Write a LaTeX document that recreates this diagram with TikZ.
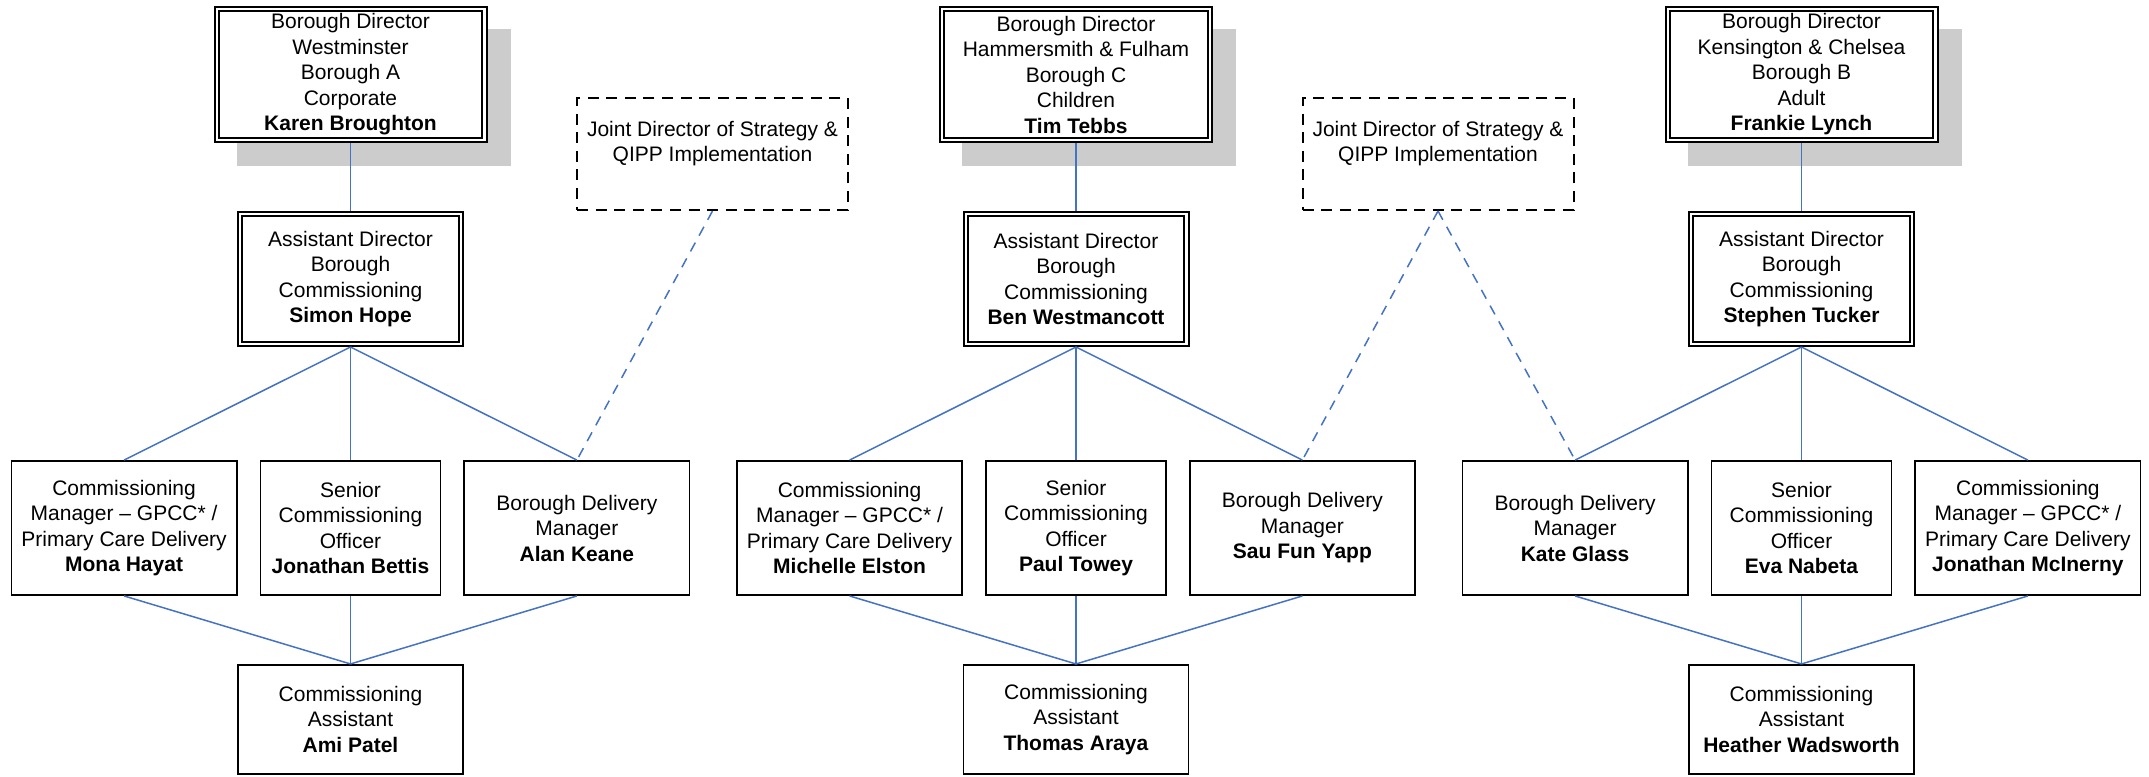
\documentclass[tikz,border=0pt]{standalone}
\usepackage{fontspec}
\setmainfont{Liberation Sans}
\usetikzlibrary{positioning,backgrounds}

\definecolor{linkblue}{RGB}{68,114,196}
\definecolor{shadowgray}{RGB}{204,204,204}

\tikzset{
  box/.style={draw, line width=0.85pt, fill=white, align=center, inner sep=0pt,
    font=\fontsize{10.5pt}{12.75pt}\selectfont},
  widebox/.style={box, minimum width=112.6pt, minimum height=67.1pt},
  seniorbox/.style={box, minimum width=90.1pt, minimum height=67.1pt},
  assistbox/.style={box, minimum width=112.6pt, minimum height=54.6pt},
  headbox/.style={box, line width=1pt, double, double distance=1.2pt, outer sep=1.6pt},
  directorbox/.style={headbox, minimum width=133.8pt, minimum height=65.3pt},
  adbox/.style={headbox, minimum width=110.3pt, minimum height=64.8pt},
  jointbox/.style={box, line width=1pt, dash pattern=on 5.5pt off 3.8pt,
    minimum width=135.5pt, minimum height=56pt},
  link/.style={draw=linkblue, line width=0.75pt},
  dashlink/.style={link, dash pattern=on 5pt off 4pt}
}

\begin{document}
\begin{tikzpicture}[x=0.5pt, y=-0.5pt, node distance=11pt]
  \useasboundingbox (0,0) rectangle (2149,777);

  % borough A
  \node[directorbox] (dirA) at (350.5,74.5)
    {Borough Director\\Westminster\\Borough A\\Corporate\\\textbf{Karen Broughton}};
  \node[adbox] (adA) at (350.5,279)
    {Assistant Director\\Borough\\Commissioning\\\textbf{Simon Hope}};
  \node[jointbox] (jointA) at (712.5,154)
    {Joint Director of Strategy \&\\QIPP Implementation\\\mbox{}};
  \node[seniorbox] (offA) at (350.5,528)
    {Senior\\Commissioning\\Officer\\\textbf{Jonathan Bettis}};
  \node[widebox, left=of offA] (mgrA)
    {Commissioning\\Manager \textendash{} GPCC* /\\Primary Care Delivery\\\textbf{Mona Hayat}};
  \node[widebox, right=of offA] (dlvA)
    {Borough Delivery\\Manager\\\textbf{Alan Keane}};
  \node[assistbox, below=34pt of offA] (asstA)
    {Commissioning\\Assistant\\\textbf{Ami Patel}};

  % borough C
  \node[directorbox] (dirC) at (1076,74.5)
    {Borough Director\\Hammersmith \& Fulham\\Borough C\\Children\\\textbf{Tim Tebbs}};
  \node[adbox] (adC) at (1076,279)
    {Assistant Director\\Borough\\Commissioning\\\textbf{Ben Westmancott}};
  \node[jointbox] (jointC) at (1438,154)
    {Joint Director of Strategy \&\\QIPP Implementation\\\mbox{}};
  \node[seniorbox] (offC) at (1076,528)
    {Senior\\Commissioning\\Officer\\\textbf{Paul Towey}};
  \node[widebox, left=of offC] (mgrC)
    {Commissioning\\Manager \textendash{} GPCC* /\\Primary Care Delivery\\\textbf{Michelle Elston}};
  \node[widebox, right=of offC] (dlvC)
    {Borough Delivery\\Manager\\\textbf{Sau Fun Yapp}};
  \node[assistbox, below=34pt of offC] (asstC)
    {Commissioning\\Assistant\\\textbf{Thomas Araya}};

  % borough B
  \node[directorbox] (dirB) at (1801.5,74.5)
    {Borough Director\\Kensington \& Chelsea\\Borough B\\Adult\\\textbf{Frankie Lynch}};
  \node[adbox] (adB) at (1801.5,279)
    {Assistant Director\\Borough\\Commissioning\\\textbf{Stephen Tucker}};
  \node[seniorbox] (offB) at (1801.5,528)
    {Senior\\Commissioning\\Officer\\\textbf{Eva Nabeta}};
  \node[widebox, left=of offB] (dlvB)
    {Borough Delivery\\Manager\\\textbf{Kate Glass}};
  \node[widebox, right=of offB] (mgrB)
    {Commissioning\\Manager \textendash{} GPCC* /\\Primary Care Delivery\\\textbf{Jonathan McInerny}};
  \node[assistbox, below=34pt of offB] (asstB)
    {Commissioning\\Assistant\\\textbf{Heather Wadsworth}};

  % shadows behind the borough directors
  \begin{scope}[on background layer]
    \fill[shadowgray] ([shift={(23,23)}]dirA.north west) rectangle ([shift={(23,23)}]dirA.south east);
    \fill[shadowgray] ([shift={(23,23)}]dirC.north west) rectangle ([shift={(23,23)}]dirC.south east);
    \fill[shadowgray] ([shift={(23,23)}]dirB.north west) rectangle ([shift={(23,23)}]dirB.south east);
  \end{scope}

  \path[link]
  (dirA) edge (adA)
  (adA.south) edge (mgrA.north)
  (adA.south) edge (offA.north)
  (adA.south) edge (dlvA.north)
  (mgrA.south) edge (asstA.north)
  (offA.south) edge (asstA.north)
  (dlvA.south) edge (asstA.north);
  \path[link]
  (dirC) edge (adC)
  (adC.south) edge (mgrC.north)
  (adC.south) edge (offC.north)
  (adC.south) edge (dlvC.north)
  (mgrC.south) edge (asstC.north)
  (offC.south) edge (asstC.north)
  (dlvC.south) edge (asstC.north);
  \path[link]
  (dirB) edge (adB)
  (adB.south) edge (dlvB.north)
  (adB.south) edge (offB.north)
  (adB.south) edge (mgrB.north)
  (dlvB.south) edge (asstB.north)
  (offB.south) edge (asstB.north)
  (mgrB.south) edge (asstB.north);
  \path[dashlink]
  (jointA.south) edge (dlvA.north)
  (jointC.south) edge (dlvC.north)
  (jointC.south) edge (dlvB.north);
\end{tikzpicture}
\end{document}
